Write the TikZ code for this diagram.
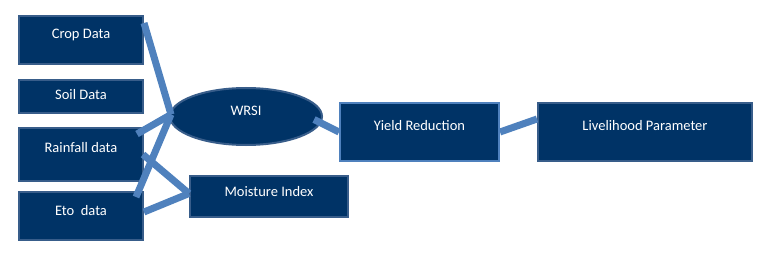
\documentclass[tikz,border=0pt]{standalone}
\usepackage{fontspec}
\setmainfont{Carlito}
\usetikzlibrary{calc,shapes.geometric}
\definecolor{navy}{RGB}{0,51,102}
\definecolor{edgeblue}{RGB}{56,93,138}
\definecolor{linkblue}{RGB}{79,129,189}
\begin{document}
\begin{tikzpicture}[x=1pt,y=-1pt,
  box/.style={rectangle,fill=navy,draw=edgeblue,line width=2pt,text=white,inner sep=0pt,
    font=\fontsize{14.5}{17}\selectfont},
  link/.style={draw=linkblue,line width=7pt}]
\useasboundingbox (0,0) rectangle (760,267);
\node[box,minimum width=124pt,text height=23pt,text depth=25pt] (crop) at (81,40) {Crop Data};
\node[box,minimum width=124pt,text height=20pt,text depth=13pt] (soil) at (81,96.5) {Soil Data};
\node[box,minimum width=124pt,text height=25pt,text depth=28pt] (rain) at (81,154.5) {Rainfall data};
\node[box,minimum width=124pt,text height=23pt,text depth=25pt] (eto) at (81,216) {Eto\ \ data};
\node[box,ellipse,minimum width=152pt,minimum height=57pt,text height=10pt,text depth=11pt] (wrsi) at (246,116.5) {WRSI};
\node[box,minimum width=158pt,text height=20pt,text depth=21pt] (moist) at (269,196.5) {Moisture Index};
\node[box,draw=linkblue,minimum width=159pt,text height=28pt,text depth=30pt] (yield) at (419.5,132) {Yield Reduction};
\node[box,minimum width=214pt,text height=28pt,text depth=30pt] (live) at (645,132) {Livelihood Parameter};
\coordinate (wl) at ($(wrsi.west)+(2,-2)$);
\coordinate (ml) at ($(moist.west)+(0,-3)$);
\draw[link] ($(crop.north east)+(0,8)$) -- (wl);
\draw[link] ($(rain.north east)+(-7,7)$) -- (wl);
\draw[link] ($(eto.north east)+(-8,6)$) -- (wl);
\draw[link] ($(rain.east)+(-1,0)$) -- (ml);
\draw[link] ($(eto.east)+(0,-4)$) -- (ml);
\draw[link] ($(wrsi.east)+(-9,3)$) -- (yield.west);
\draw[link] (yield.east) -- ($(live.west)+(0,-13)$);
\end{tikzpicture}
\end{document}
